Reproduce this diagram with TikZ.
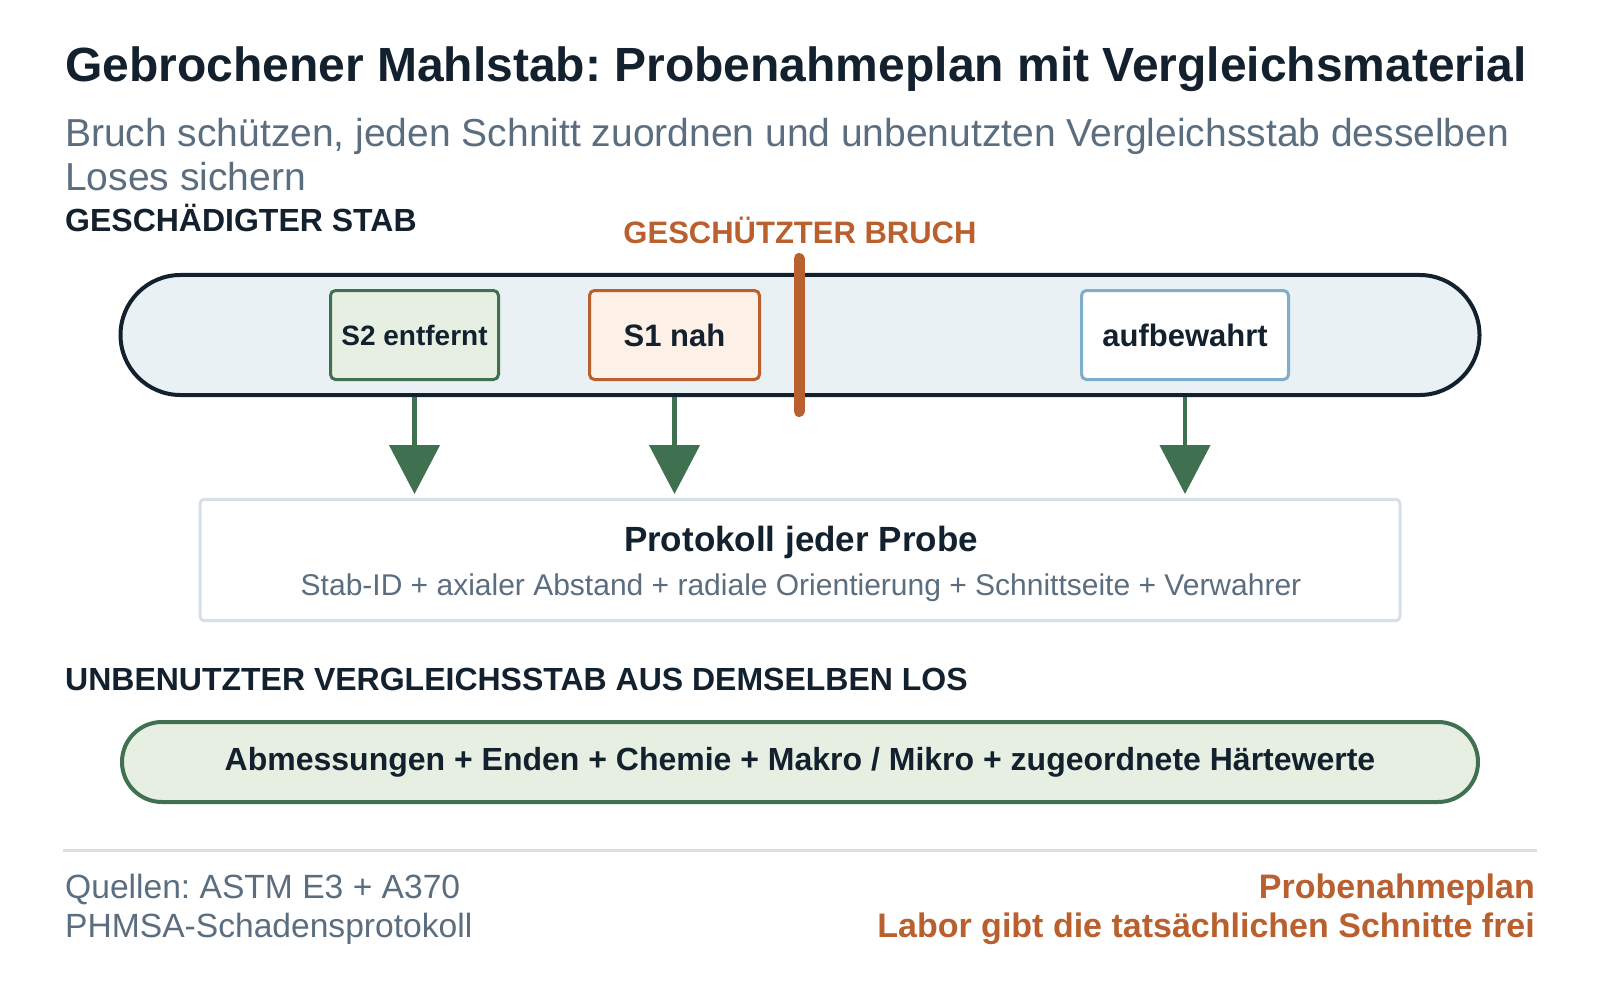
\documentclass[tikz,border=0pt]{standalone}
\usepackage{fontspec}
\setmainfont{Liberation Sans}
\usetikzlibrary{arrows.meta}
\definecolor{tinte}{HTML}{13212F}
\definecolor{grau}{HTML}{5B6E80}
\definecolor{rost}{HTML}{B9602E}
\definecolor{rostfuell}{HTML}{FDF0E6}
\definecolor{gruen}{HTML}{3F7050}
\definecolor{gruenfuell}{HTML}{E6EFE2}
\definecolor{blau}{HTML}{80ADCA}
\definecolor{stabfuell}{HTML}{E9F1F5}
\definecolor{linie}{HTML}{D7DFE7}
\frenchspacing

\begin{document}
\begin{tikzpicture}[x=1pt, y=-1pt,
    kopf/.style={anchor=base west, inner sep=0pt, text=tinte, font=\fontsize{32}{38}\selectfont\bfseries},
    probe/.style={draw, line width=3pt, rounded corners=5pt, minimum height=89pt, inner sep=0pt, text=tinte, font=\fontsize{31}{37}\selectfont\bfseries},
    pfeil/.style={gruen, line width=4.5pt, -{Triangle[width=50pt,length=49pt]}, shorten >=4pt},
    fuss/.style={inner sep=0pt, font=\fontsize{33.6}{40}\selectfont}]
    \useasboundingbox[fill=white] (0,0) rectangle (1600,1000);

    \node[anchor=base west, inner sep=0pt, text=tinte, font=\fontsize{48}{56}\selectfont\bfseries] (titel) at (65,82) {Gebrochener Mahlstab: Probenahmeplan mit Vergleichsmaterial};
    \node[anchor=base west, inner sep=0pt, text=grau, font=\fontsize{39}{44}\selectfont] (unter1) at (65,147) {Bruch schützen, jeden Schnitt zuordnen und unbenutzten Vergleichsstab desselben};
    \node[anchor=base west, inner sep=0pt, text=grau, font=\fontsize{39}{44}\selectfont] (unter2) at (65,191) {Loses sichern};
    \node[kopf] (kopfstab) at (65,232) {GESCHÄDIGTER STAB};
    \node[kopf, anchor=base, text=rost, font=\fontsize{31}{37}\selectfont\bfseries] (kopfbruch) at (800,244) {GESCHÜTZTER BRUCH};

    \node[draw=tinte, fill=stabfuell, line width=4pt, rounded corners=60pt, minimum width=1359pt, minimum height=120pt] (stab) at (800,335) {};
    \node[probe, draw=gruen, fill=gruenfuell, minimum width=168pt, font=\fontsize{28}{34}\selectfont\bfseries] (s2) at (414.5,335) {S2 entfernt};
    \node[probe, draw=rost, fill=rostfuell, minimum width=170pt] (s1) at (674.5,335) {S1 nah};
    \node[probe, draw=blau, fill=white, minimum width=207pt] (rest) at (1185,335) {aufbewahrt};
    \coordinate (bruchoben) at (799,258.5);
    \coordinate (bruchunten) at (799,411.5);
    \draw[rost, line width=11pt, line cap=round] (bruchoben) -- (bruchunten);

    \node[draw=linie, fill=white, line width=3pt, rounded corners=4pt, minimum width=1200pt, minimum height=121pt] (protokoll) at (800,560) {};
    \node[anchor=base, inner sep=0pt, text=tinte, font=\fontsize{35}{42}\selectfont\bfseries] (prottitel) at (801,551) {Protokoll jeder Probe};
    \node[anchor=base, inner sep=0pt, text=grau, font=\fontsize{30}{36}\selectfont] (prottext) at (801,595) {Stab-ID + axialer Abstand + radiale Orientierung + Schnittseite + Verwahrer};

    \draw[pfeil] (s2 |- stab.south) -- (s2 |- protokoll.north);
    \draw[pfeil] (s1 |- stab.south) -- (s1 |- protokoll.north);
    \draw[pfeil] (rest |- stab.south) -- (rest |- protokoll.north);

    \node[kopf] (kopfvergleich) at (65,690) {UNBENUTZTER VERGLEICHSSTAB AUS DEMSELBEN LOS};
    \node[draw=gruen, fill=gruenfuell, line width=4pt, rounded corners=40pt, minimum width=1356pt, minimum height=80pt, text=tinte, font=\fontsize{32}{38}\selectfont\bfseries] (vergleich) at (800,762) {Abmessungen + Enden + Chemie + Makro / Mikro + zugeordnete Härtewerte};

    \coordinate (regellinks) at (63,850);
    \coordinate (regelrechts) at (1537,850);
    \draw[linie, line width=3pt] (regellinks) -- (regelrechts);
    \node[fuss, anchor=base west, text=grau] (quelle1) at (65,898) {Quellen: ASTM E3 + A370};
    \node[fuss, anchor=base west, text=grau] (quelle2) at (65,937) {PHMSA-Schadensprotokoll};
    \node[fuss, anchor=base east, text=rost, font=\fontsize{34}{40}\selectfont\bfseries] (plan) at (1535,898) {Probenahmeplan};
    \node[fuss, anchor=base east, text=rost, font=\fontsize{34}{40}\selectfont\bfseries] (labor) at (1535,937) {Labor gibt die tatsächlichen Schnitte frei};
\end{tikzpicture}
\end{document}
